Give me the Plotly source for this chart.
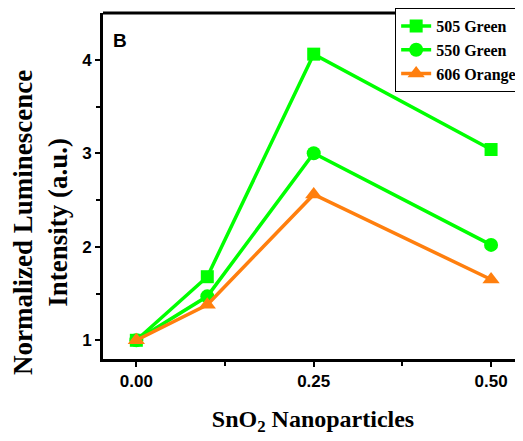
import plotly.graph_objects as go

# SnO2 nanoparticle content
x_vals = [0.0, 0.1, 0.25, 0.5]

# normalized intensity per emission band
green_505 = [1.0, 1.68, 4.06, 3.04]
green_550 = [1.0, 1.47, 3.00, 2.02]
orange_606 = [1.0, 1.38, 2.56, 1.65]

names = ["505 Green", "550 Green", "606 Orange"]

fig = go.Figure()

fig.add_trace(go.Scatter(x=x_vals, y=green_505, name=names[0], mode="lines+markers",
                         line=dict(color="#00ff00", width=3.5),
                         marker=dict(symbol="square", size=13, color="#00ff00")))
fig.add_trace(go.Scatter(x=x_vals, y=green_550, name=names[1], mode="lines+markers",
                         line=dict(color="#00ff00", width=3.5),
                         marker=dict(symbol="circle", size=14, color="#00ff00")))
fig.add_trace(go.Scatter(x=x_vals, y=orange_606, name=names[2], mode="lines+markers",
                         line=dict(color="#ff7f0e", width=3.5),
                         marker=dict(symbol="triangle-up", size=15, color="#ff7f0e")))

tick_font = dict(family="Liberation Sans", size=17, color="black")

fig.update_xaxes(range=[-0.047, 0.545], tickvals=[0, 0.25, 0.5], ticktext=["<b>0.00</b>", "<b>0.25</b>", "<b>0.50</b>"],
                 ticks="outside", ticklen=5, tickwidth=2, tickcolor="black",
                 minor=dict(tickvals=[0.125, 0.375], ticks="outside", ticklen=4, tickwidth=2, tickcolor="black"),
                 showline=True, linewidth=3, linecolor="black",
                 showgrid=False, zeroline=False, tickfont=tick_font,
                 title=dict(text="<b>SnO<sub>2</sub> Nanoparticles</b>", standoff=20,
                            font=dict(family="Liberation Serif", size=24, color="black")))
fig.update_yaxes(range=[0.8, 4.5], tickvals=[1, 2, 3, 4], ticktext=["<b>1</b>", "<b>2</b>", "<b>3</b>", "<b>4</b>"],
                 ticks="outside", ticklen=5, tickwidth=2, tickcolor="black",
                 minor=dict(tickvals=[1.5, 2.5, 3.5], ticks="outside", ticklen=4, tickwidth=2, tickcolor="black"),
                 showline=True, linewidth=3, linecolor="black",
                 showgrid=False, zeroline=False, tickfont=tick_font)

# y title sits lower than the plot centre in the original
fig.add_annotation(text="<b>Normalized Luminescence<br>Intensity (a.u.)</b>", textangle=-90,
                   xref="paper", yref="paper", x=-0.15, y=0.393, xanchor="center", yanchor="middle",
                   showarrow=False, font=dict(family="Liberation Serif", size=27, color="black"))

# top frame thick, right edge thin grey
fig.add_shape(type="line", xref="paper", yref="paper", x0=0, x1=1, y0=1, y1=1,
              line=dict(color="black", width=3))
fig.add_shape(type="line", xref="paper", yref="paper", x0=0.998, x1=0.998, y0=0, y1=1,
              line=dict(color="#888888", width=1))

fig.add_annotation(text="<b>B</b>", xref="paper", yref="paper", x=0.02, y=0.92,
                   xanchor="left", yanchor="middle", showarrow=False,
                   font=dict(family="Liberation Sans", size=19, color="black"))

for t in fig.data:
    t.name = "<b>" + t.name + "</b>"

# page body adds an 8px margin, so the figure is 8px smaller than the window
fig.update_layout(width=515, height=433, plot_bgcolor="white", paper_bgcolor="white",
                  margin=dict(l=95, r=0, t=2, b=82),
                  legend=dict(x=0.998, y=1.015, xanchor="right", yanchor="top",
                              bgcolor="white", bordercolor="black", borderwidth=1,
                              font=dict(family="Liberation Serif", size=16, color="black"),
                              tracegroupgap=0, itemwidth=30))

fig.write_html("out.html")
